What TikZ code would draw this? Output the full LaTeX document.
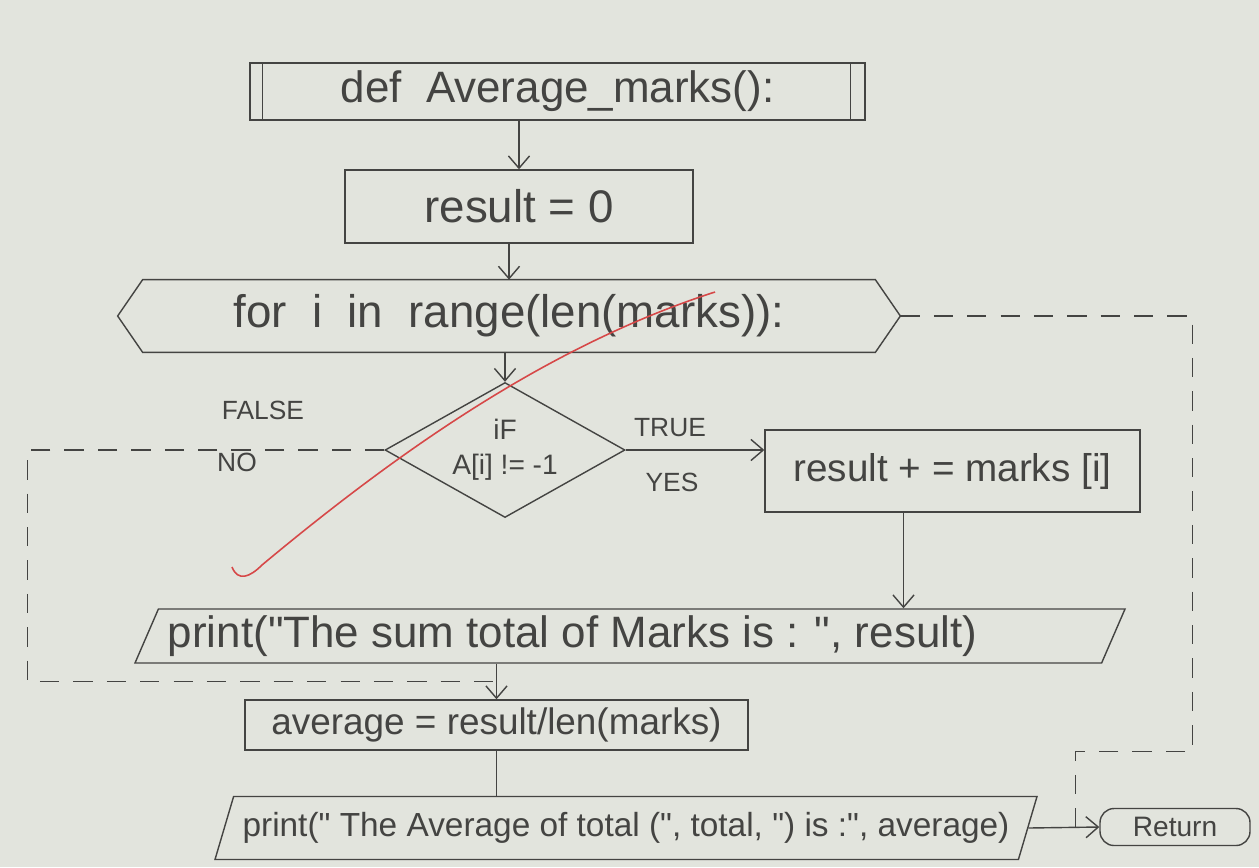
\documentclass[tikz,border=0pt]{standalone}
\usepackage{fontspec}
\setmainfont{Liberation Sans}[Ligatures=TeXOff]
\usetikzlibrary{arrows.meta, calc, shapes.geometric}

\definecolor{paper}{RGB}{226,228,221}
\definecolor{pencil}{RGB}{68,68,66}
\definecolor{redpen}{RGB}{214,72,72}

\begin{document}
\begin{tikzpicture}[
  every node/.style={text=pencil, inner sep=2pt},
  proc/.style={draw=pencil, thick, rectangle, font=\fontsize{22}{26}\selectfont},
  loopbox/.style={font=\fontsize{26}{30}\selectfont},
  iobox/.style={draw=pencil, thick, trapezium, trapezium left angle=64,
                trapezium right angle=116, trapezium stretches body,
                font=\fontsize{25}{29}\selectfont},
  decide/.style={draw=pencil, thick, diamond, aspect=1.78, align=center,
                 font=\fontsize{16}{20}\selectfont},
  endbox/.style={draw=pencil, thick, rounded corners=8pt,
                 font=\fontsize{16}{19}\selectfont},
  lbl/.style={font=\fontsize{15}{18}\selectfont},
  arr/.style={-{Straight Barb[length=7pt, width=12pt]}, thick, draw=pencil},
  link/.style={thick, draw=pencil},
  back/.style={thick, draw=pencil, dash pattern=on 11pt off 8pt}
]
  \fill[paper] (0,0) rectangle (25.18,-17.34);
  \useasboundingbox (0,0) rectangle (25.18,-17.34);

  % Function head
  \node[proc, minimum width=12.3cm, minimum height=1.14cm,
        font=\fontsize{25}{29}\selectfont] (def) at (11.15,-1.83)
        {def\ \ Average\_marks():};
  \draw[link] ([xshift=0.26cm]def.north west) -- ([xshift=0.26cm]def.south west);
  \draw[link] ([xshift=-0.3cm]def.north east) -- ([xshift=-0.3cm]def.south east);

  \node[proc, minimum width=6.96cm, minimum height=1.46cm,
        font=\fontsize{26}{30}\selectfont] (res) at (10.38,-4.13) {result = 0};

  % Loop
  \node[loopbox, minimum width=14.64cm, minimum height=1.44cm] (forloop)
        at (10.18,-6.32) {for\ \ i\ \ in\ \ range(len(marks)):};
  \draw[link] (forloop.north west) -- (forloop.north east)
     -- ([xshift=0.5cm]forloop.east) coordinate (looptip)
     -- (forloop.south east) -- (forloop.south west)
     -- ([xshift=-0.5cm]forloop.west) -- cycle;

  % Test
  \node[decide, minimum width=4.8cm, minimum height=2.7cm] (test)
        at (10.1,-9.0) {iF\\A[i] != -1};
  \node[proc, minimum width=7.5cm, minimum height=1.64cm] (add)
        at (19.05,-9.42) {result + = marks [i]};

  \node[lbl] (ltrue)  at (13.4,-8.56)  {TRUE};
  \node[lbl] (lyes)   at (13.44,-9.64) {YES};
  \node[lbl] (lfalse) at (5.26,-8.2)   {FALSE};
  \node[lbl] (lno)    at (4.74,-9.24)  {NO};

  % Output
  \node[iobox, minimum width=19.8cm, minimum height=1.08cm] (psum)
        at (12.6,-12.72) {print("The sum total of Marks is : ", result)\rule{2.3cm}{0pt}};
  \node[proc, minimum width=10.06cm, minimum height=1.0cm,
        font=\fontsize{21}{25}\selectfont] (avg) at (9.93,-14.5)
        {average = result/len(marks)};
  \node[iobox, minimum width=16.44cm, minimum height=1.26cm,
        font=\fontsize{19}{23}\selectfont] (pavg) at (12.52,-16.56)
        {print(" The Average of total (", total, ") is :", average)};
  \node[endbox, minimum width=3cm, minimum height=0.74cm] (ret)
        at (23.5,-16.54) {Return};

  % Arrows
  \draw[arr] (res.north |- def.south) -- (res.north);
  \draw[arr] (forloop.north |- res.south) -- (forloop.north);
  \draw[arr] (test.north |- forloop.south) -- (test.north);
  \draw[arr] (test.east) -- (test.east -| add.west);
  \draw[arr] ([xshift=-0.98cm]add.south) -- ([xshift=-0.98cm]add.south |- psum.north);
  \draw[arr] (avg.north |- psum.south) -- (avg.north);
  \draw[link] (avg.south) -- (avg.south |- pavg.north);
  \draw[arr] (pavg.east) -- (ret.west);

  % Dashed paths
  \draw[back] (test.west) -- ++(-7.14,0) |- ($(avg.north)+(0,0.36)$);
  \coordinate (retjoin) at ($(pavg.east)!0.66!(ret.west)$);
  \draw[back] (looptip) -- ++(5.84,0) |- ($(retjoin)+(0,1.52)$) -- (retjoin);

  % Red pen mark
  \draw[redpen, line width=0.9pt] (4.64,-11.34) .. controls (4.76,-11.64) and (5.0,-11.54) .. (5.24,-11.3)
     .. controls (8.0,-9.0) and (11.0,-6.9) .. (14.3,-5.84);
\end{tikzpicture}
\end{document}
